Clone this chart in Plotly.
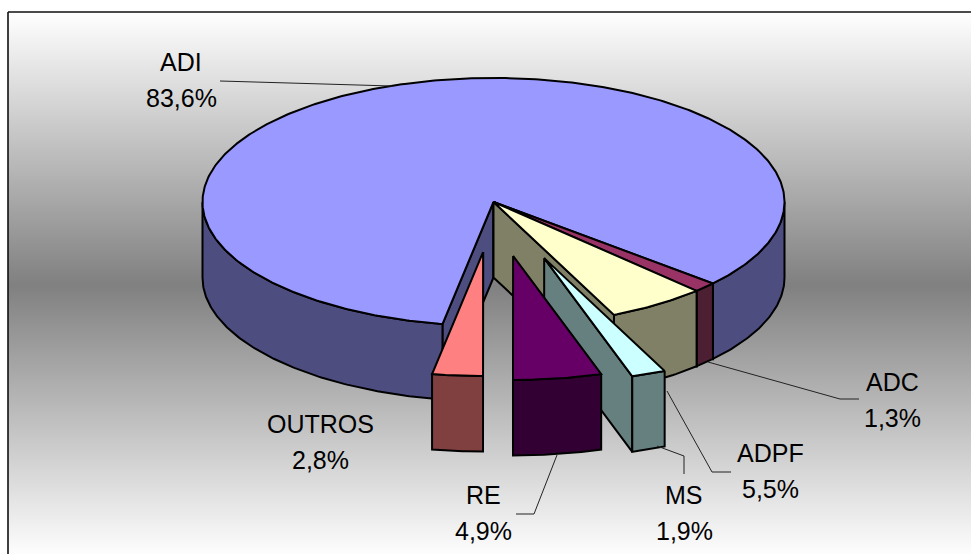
import math
import plotly.graph_objects as go

# ---- data (clockwise from the start of the largest slice) ----
labels = ["ADI", "ADC", "ADPF", "MS", "RE", "OUTROS"]
values = [83.6, 1.3, 5.5, 1.9, 4.9, 2.8]
explode = [0, 0, 0, 0.485, 0.44, 0.405]
top_colors = ["#9999FF", "#993366", "#FFFFCC", "#CCFFFF", "#660066", "#FF8080"]
side_colors = ["#4D4D80", "#4D1F33", "#808066", "#668080", "#330033", "#804040"]

# ---- layout constants (pixels of the 971x554 page) ----
W, H = 971, 554
CX, CY, RX, RY, DEPTH = 493.5, 202, 291, 124, 75.5
START_DEG = 190.1
FRAME_L, FRAME_T = 8, 12
FONT = "Liberation Sans"
FS = 25
label_pos = {
    "ADI": (181, 62), "ADC": (892, 382), "ADPF": (770, 453),
    "MS": (684, 495), "RE": (483, 495), "OUTROS": (320, 424),
}
LINE_PITCH = 35.5
leaders = [
    [(220, 81), (392, 86)],
    [(708, 362), (840, 399), (859, 399)],
    [(667, 391), (712, 472), (731, 472)],
    [(657, 446), (684, 456), (684, 474)],
    [(557, 455), (534, 514), (516, 514)],
]


def rim(t, ox, oy, dz=0.0):
    r = math.radians(t)
    return ox + RX * math.sin(r), oy - RY * math.cos(r) + dz


def arc(t0, t1, ox, oy, dz=0.0):
    n = max(2, int(abs(t1 - t0) * 1.5))
    return [rim(t0 + (t1 - t0) * i / n, ox, oy, dz) for i in range(n + 1)]


def poly(pts, fill, width=2.0):
    xs = [p[0] for p in pts] + [pts[0][0]]
    ys = [p[1] for p in pts] + [pts[0][1]]
    return go.Scatter(
        x=xs, y=ys, mode="lines", fill="toself", fillcolor=fill,
        line=dict(color="black", width=width), hoverinfo="skip", showlegend=False,
    )


fig = go.Figure()

# panel with the vertical white-grey-white gradient
fig.add_trace(go.Scatter(
    x=[FRAME_L, W + 4, W + 4, FRAME_L, FRAME_L],
    y=[FRAME_T, FRAME_T, H + 4, H + 4, FRAME_T],
    mode="lines", fill="toself",
    fillgradient=dict(type="vertical", colorscale=[[0, "#FFFFFF"], [0.5, "#808080"], [1, "#FFFFFF"]]),
    line=dict(color="#111111", width=1.6), hoverinfo="skip", showlegend=False,
))

# slices, drawn back to front in list order
angle = START_DEG
total = sum(values)
for val, ex, top, side in zip(values, explode, top_colors, side_colors):
    t0, t1 = angle, angle + val / total * 360
    angle = t1
    mid = math.radians((t0 + t1) / 2)
    ox = CX + ex * RX * math.sin(mid)
    oy = CY - ex * RY * math.cos(mid)

    # cut faces that look towards the viewer
    if math.sin(math.radians(t1)) > 1e-6:
        a = rim(t1, ox, oy)
        fig.add_trace(poly([(ox, oy), a, (a[0], a[1] + DEPTH), (ox, oy + DEPTH)], side))
    if math.sin(math.radians(t0)) < -1e-6:
        a = rim(t0, ox, oy)
        fig.add_trace(poly([(ox, oy), a, (a[0], a[1] + DEPTH), (ox, oy + DEPTH)], side))

    # outer wall: the parts of the rim on the front half (90..270 degrees, mod 360)
    for k in (-360, 0, 360):
        lo, hi = max(t0, 90 + k), min(t1, 270 + k)
        if hi > lo:
            fig.add_trace(poly(arc(lo, hi, ox, oy) + arc(hi, lo, ox, oy, DEPTH), side))

    # top face
    fig.add_trace(poly([(ox, oy)] + arc(t0, t1, ox, oy), top))

# leader lines
shapes = []
for route in leaders:
    path = "M " + " L ".join(f"{x},{y}" for x, y in route)
    shapes.append(dict(type="path", path=path, xref="x", yref="y",
                       line=dict(color="#222222", width=1)))

# labels
annotations = []
for name, val in zip(labels, values):
    x, y = label_pos[name]
    for txt, yy in ((name, y), (f"{val:.1f}%".replace(".", ","), y + LINE_PITCH)):
        annotations.append(dict(
            x=x, y=yy, xref="x", yref="y", text=txt, showarrow=False,
            xanchor="center", yanchor="middle",
            font=dict(family=FONT, size=FS, color="black"),
        ))

fig.update_layout(
    width=W, height=H, margin=dict(l=0, r=0, t=0, b=0),
    paper_bgcolor="white", plot_bgcolor="white",
    xaxis=dict(range=[0, W], visible=False, fixedrange=True),
    yaxis=dict(range=[H, 0], visible=False, fixedrange=True),
    shapes=shapes, annotations=annotations,
)
fig.write_html(
    "out.html",
    config={"displayModeBar": False},
    post_script="document.body.style.margin='0';document.body.style.overflow='hidden';",
)
